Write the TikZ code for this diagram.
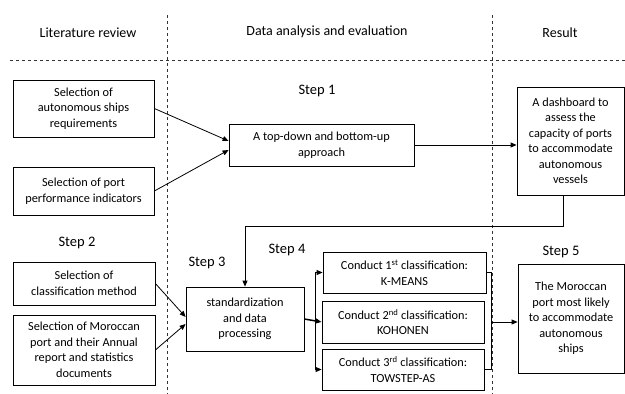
\documentclass[tikz,border=0pt]{standalone}
\usepackage{fontspec}
\setmainfont{Carlito}
\usetikzlibrary{calc,arrows.meta}
\begin{document}
\begin{tikzpicture}[x=1pt,y=-1pt,
  box/.style={draw,line width=0.8pt,align=center,inner sep=1pt,font=\fontsize{12.3}{15.5}\selectfont},
  hdr/.style={font=\fontsize{14}{16}\selectfont},
  steplbl/.style={font=\fontsize{14.5}{16}\selectfont},
  arr/.style={-{Triangle[length=6pt,width=5pt]},line width=0.8pt},
  sep/.style={dashed,dash pattern=on 3pt off 3pt,line width=0.8pt,black!80}]
\useasboundingbox (0,0) rectangle (625,394);
% separators
\coordinate (v1t) at (167,15); \coordinate (v1b) at (167,394);
\coordinate (v2t) at (492,15); \coordinate (v2b) at (492,394);
\coordinate (hl) at (10,60); \coordinate (hr) at (625,60);
\draw[sep] (v1t) -- (v1b);
\draw[sep] (v2t) -- (v2b);
\draw[sep] (hl) -- (hr);
% headers
\node[hdr] (h1) at (88,33) {Literature review};
\node[hdr] (h2) at (327,32) {Data analysis and evaluation};
\node[hdr] (h3) at (560,33) {Result};
% steps
\node[steplbl] (s1) at (317,91) {Step 1};
\node[steplbl] (s2) at (77,243) {Step 2};
\node[steplbl] (s3) at (207,263) {Step 3};
\node[steplbl] (s4) at (287,250) {Step 4};
\node[steplbl] (s5) at (561,252) {Step 5};
% boxes
\node[box,minimum width=141,minimum height=57] (b1) at (83.5,108.5) {Selection of\\autonomous  ships\\requirements};
\node[box,minimum width=141,minimum height=48] (b2) at (83.5,191) {Selection of port\\performance indicators};
\node[box,minimum width=185,minimum height=42] (td) at (321.5,145) {A top-down and bottom-up\\approach};
\node[box,minimum width=107,minimum height=108] (db) at (570.5,141) {A dashboard to\\assess the\\capacity of ports\\to accommodate\\autonomous\\vessels};
\node[box,minimum width=142,minimum height=43] (cl) at (84,283.5) {Selection of\\classification method};
\node[box,minimum width=142,minimum height=70] (mo) at (84,350) {Selection of Moroccan\\port and their Annual\\report and statistics\\documents};
\node[box,minimum width=118,minimum height=64] (st) at (245,319) {standardization\\and data\\processing};
\node[box,minimum width=163,minimum height=41] (km) at (404.5,272.5) {Conduct 1\textsuperscript{st} classification:\\K-MEANS};
\node[box,minimum width=162,minimum height=42] (ko) at (403,322) {Conduct 2\textsuperscript{nd} classification:\\KOHONEN};
\node[box,minimum width=162,minimum height=41] (ts) at (403,369.5) {Conduct 3\textsuperscript{rd} classification:\\TOWSTEP-AS};
\node[box,minimum width=106,minimum height=109] (po) at (571,318.5) {The Moroccan\\port  most likely\\to accommodate\\autonomous\\ships};
% connectors
\draw[arr] (b1.east) -- ($(td.west)+(0,-4)$);
\draw[arr] (b2.east) -- ($(td.west)+(0,5)$);
\draw[arr] (td.east) -- (td.east -| db.west);
\draw[arr] ($(db.south)+(-7,0)$) |- ($(st.north)+(0,-60)$) -- (st.north);
\draw[arr] (cl.east) -- ($(st.west)+(0,-2)$);
\draw[arr] (mo.east) -- ($(st.west)+(0,5)$);
\coordinate (br) at (315,0);
\coordinate (mg) at (491,0);
\draw[arr,line width=1.5pt] (st.east) -- (ko.west);
\draw[arr] (st.east -| br) |- (km.west);
\draw[arr] (st.east -| br) |- (ts.west);
\draw[line width=0.8pt] (km.east) -- (km.east -| mg) -- (ts.east -| mg) -- (ts.east);
\draw[arr] (ko.east -| mg) -- (ko.east -| po.west);
\end{tikzpicture}
\end{document}
